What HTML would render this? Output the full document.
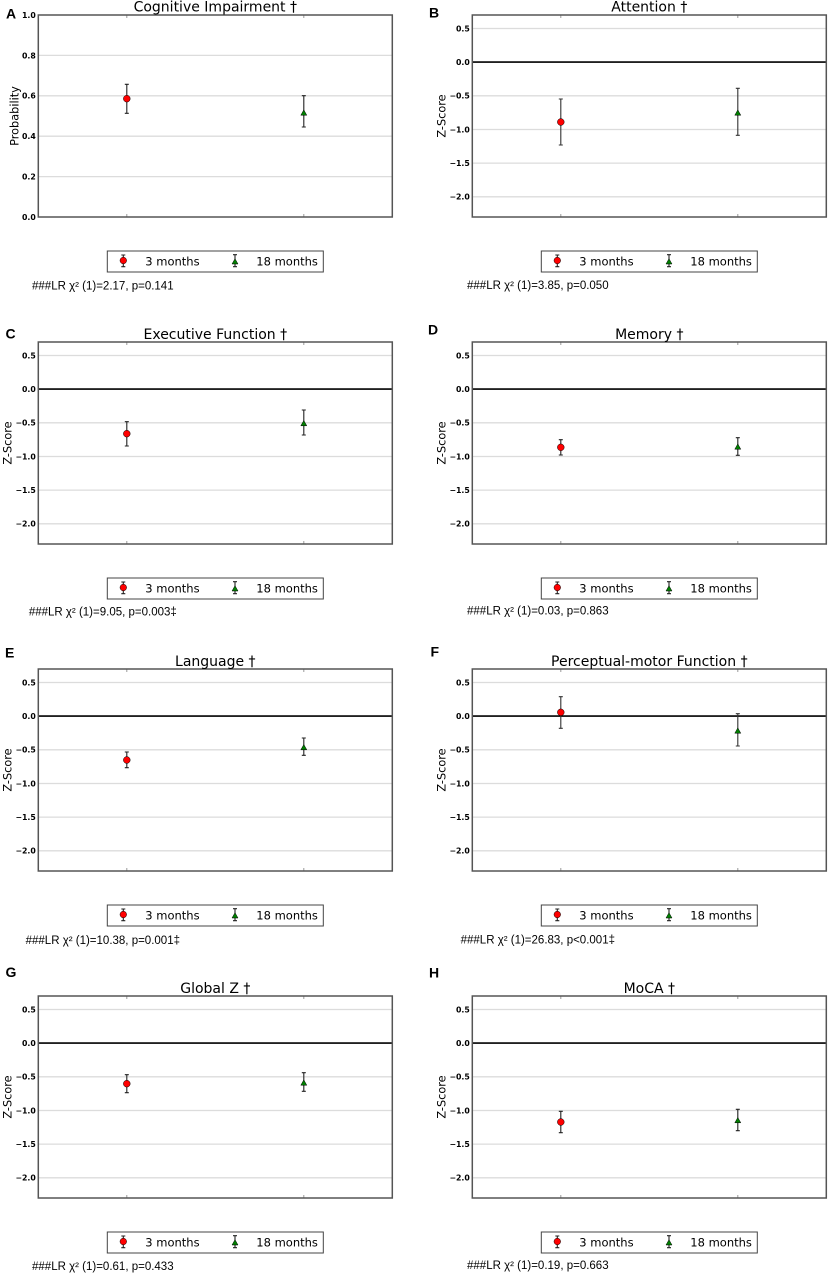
<!DOCTYPE html>
<html><head><meta charset="utf-8"><style>
html,body{margin:0;padding:0;background:#fff;}
svg{display:block;}
.tk{font-family:"DejaVu Sans","Liberation Sans",sans-serif;font-size:7.8px;font-weight:bold;fill:#000;text-anchor:end;}
.tt{font-family:"DejaVu Sans","Liberation Sans",sans-serif;font-size:14px;fill:#000;text-anchor:middle;}
.yl{font-family:"DejaVu Sans","Liberation Sans",sans-serif;font-size:11.3px;fill:#000;text-anchor:middle;}
.lg{font-family:"DejaVu Sans","Liberation Sans",sans-serif;font-size:11.5px;fill:#000;}
.ft{font-family:"Liberation Sans",sans-serif;font-size:11.5px;fill:#000;text-anchor:middle;}
.lb{font-family:"Liberation Sans",sans-serif;font-size:14px;font-weight:bold;fill:#000;}
</style></head><body>
<svg width="829" height="1274" viewBox="0 0 829 1274" xmlns="http://www.w3.org/2000/svg">
<defs>
<g id="zgrid">
 <g stroke="#dcdcdc" stroke-width="1.3">
  <line x1="0" x2="354" y1="13.5" y2="13.5"/>
  <line x1="0" x2="354" y1="80.8" y2="80.8"/>
  <line x1="0" x2="354" y1="114.5" y2="114.5"/>
  <line x1="0" x2="354" y1="148.1" y2="148.1"/>
  <line x1="0" x2="354" y1="181.8" y2="181.8"/>
 </g>
 <line x1="0" x2="354" y1="47.1" y2="47.1" stroke="#000" stroke-width="1.6"/>
</g>
<g id="agrid">
 <g stroke="#dcdcdc" stroke-width="1.3">
  <line x1="0" x2="354" y1="40.4" y2="40.4"/>
  <line x1="0" x2="354" y1="80.8" y2="80.8"/>
  <line x1="0" x2="354" y1="121.2" y2="121.2"/>
  <line x1="0" x2="354" y1="161.6" y2="161.6"/>
 </g>
</g>
<g id="frame">
 <g stroke="#999" stroke-width="1">
  <line x1="88.5" x2="88.5" y1="0" y2="3"/>
  <line x1="265.5" x2="265.5" y1="0" y2="3"/>
  <line x1="88.5" x2="88.5" y1="199" y2="202"/>
  <line x1="265.5" x2="265.5" y1="199" y2="202"/>
 </g>
 <rect x="0" y="0" width="354" height="202" fill="none" stroke="#555" stroke-width="1.5"/>
 <rect x="69" y="236" width="216" height="21" fill="#fff" stroke="#444" stroke-width="1"/>
 <path d="M85 240V251.7M83 240H87M83 251.7H87" stroke="#222" stroke-width="1.1" fill="none"/>
 <circle cx="85" cy="245.5" r="3.3" fill="#f00" stroke="#000" stroke-width="0.5"/>
 <path d="M196.7 239.7V251.7M194.7 239.7H198.7M194.7 251.7H198.7" stroke="#222" stroke-width="1.1" fill="none"/>
 <path d="M196.7 243.7L199.7 249L193.7 249Z" fill="#008000" stroke="#000" stroke-width="0.5"/>
</g>
<g id="ztk">
 <text class="tk" x="-2.5" y="16.4">0.5</text>
 <text class="tk" x="-2.5" y="50">0.0</text>
 <text class="tk" x="-2.5" y="83.7">−0.5</text>
 <text class="tk" x="-2.5" y="117.4">−1.0</text>
 <text class="tk" x="-2.5" y="151">−1.5</text>
 <text class="tk" x="-2.5" y="184.7">−2.0</text>
</g>
</defs>

<!-- A -->
<g transform="translate(38.3,15)">
 <use href="#agrid"/>
 <text class="tk" x="-2.5" y="2.9">1.0</text>
 <text class="tk" x="-2.5" y="43.3">0.8</text>
 <text class="tk" x="-2.5" y="83.7">0.6</text>
 <text class="tk" x="-2.5" y="124.1">0.4</text>
 <text class="tk" x="-2.5" y="164.5">0.2</text>
 <text class="tk" x="-2.5" y="204.9">0.0</text>
 <path d="M88.5 69.3V98.3M86.5 69.3H90.5M86.5 98.3H90.5" stroke="#222" stroke-width="1.1" fill="none"/>
 <circle cx="88.5" cy="83.7" r="3.4" fill="#f00" stroke="#000" stroke-width="0.5"/>
 <path d="M265.5 80.7V112M263.5 80.7H267.5M263.5 112H267.5" stroke="#222" stroke-width="1.1" fill="none"/>
 <path d="M265.5 94.9L268.5 100.2L262.5 100.2Z" fill="#008000" stroke="#000" stroke-width="0.5"/>
 <use href="#frame"/>
 <text class="tt" x="177" y="-3.5">Cognitive Impairment †</text>
 <text class="yl" transform="translate(-19.6,101) rotate(-90)">Probability</text>
 <text class="lg" x="107" y="250.7">3 months</text>
 <text class="lg" x="218" y="250.7">18 months</text>
 <text class="ft" x="64.5" y="274.5">###LR χ² (1)=2.17, p=0.141</text>
</g>

<!-- B -->
<g transform="translate(472.3,15)">
 <use href="#zgrid"/>
 <use href="#ztk"/>
 <path d="M88.5 84V130M86.5 84H90.5M86.5 130H90.5" stroke="#333" stroke-width="1.1" fill="none"/>
 <circle cx="88.5" cy="107" r="3.4" fill="#f00" stroke="#000" stroke-width="0.5"/>
 <path d="M265.5 73.3V120.3M263.5 73.3H267.5M263.5 120.3H267.5" stroke="#333" stroke-width="1.1" fill="none"/>
 <path d="M265.5 94.9L268.5 100.2L262.5 100.2Z" fill="#008000" stroke="#000" stroke-width="0.5"/>
 <use href="#frame"/>
 <text class="tt" x="177" y="-3.5">Attention †</text>
 <text class="yl" transform="translate(-27,101) rotate(-90)">Z-Score</text>
 <text class="lg" x="107" y="250.7">3 months</text>
 <text class="lg" x="218" y="250.7">18 months</text>
 <text class="ft" x="65.5" y="274">###LR χ² (1)=3.85, p=0.050</text>
</g>

<!-- C -->
<g transform="translate(38.3,342)">
 <use href="#zgrid"/>
 <use href="#ztk"/>
 <path d="M88.5 79.7V104M86.5 79.7H90.5M86.5 104H90.5" stroke="#222" stroke-width="1.1" fill="none"/>
 <circle cx="88.5" cy="91.7" r="3.4" fill="#f00" stroke="#000" stroke-width="0.5"/>
 <path d="M265.5 68V93M263.5 68H267.5M263.5 93H267.5" stroke="#222" stroke-width="1.1" fill="none"/>
 <path d="M265.5 78.5L268.5 83.8L262.5 83.8Z" fill="#008000" stroke="#000" stroke-width="0.5"/>
 <use href="#frame"/>
 <text class="tt" x="177" y="-3">Executive Function †</text>
 <text class="yl" transform="translate(-27,101) rotate(-90)">Z-Score</text>
 <text class="lg" x="107" y="250.7">3 months</text>
 <text class="lg" x="218" y="250.7">18 months</text>
 <text class="ft" x="64.5" y="273.5">###LR χ² (1)=9.05, p=0.003‡</text>
</g>

<!-- D -->
<g transform="translate(472.3,342)">
 <use href="#zgrid"/>
 <use href="#ztk"/>
 <path d="M88.5 97.7V113M86.5 97.7H90.5M86.5 113H90.5" stroke="#222" stroke-width="1.1" fill="none"/>
 <circle cx="88.5" cy="105.3" r="3.4" fill="#f00" stroke="#000" stroke-width="0.5"/>
 <path d="M265.5 95.7V113.3M263.5 95.7H267.5M263.5 113.3H267.5" stroke="#222" stroke-width="1.1" fill="none"/>
 <path d="M265.5 101.9L268.5 107.2L262.5 107.2Z" fill="#008000" stroke="#000" stroke-width="0.5"/>
 <use href="#frame"/>
 <text class="tt" x="177" y="-3">Memory †</text>
 <text class="yl" transform="translate(-27,101) rotate(-90)">Z-Score</text>
 <text class="lg" x="107" y="250.7">3 months</text>
 <text class="lg" x="218" y="250.7">18 months</text>
 <text class="ft" x="65.5" y="272.5">###LR χ² (1)=0.03, p=0.863</text>
</g>

<!-- E -->
<g transform="translate(38.3,669)">
 <use href="#zgrid"/>
 <use href="#ztk"/>
 <path d="M88.5 83V98.7M86.5 83H90.5M86.5 98.7H90.5" stroke="#222" stroke-width="1.1" fill="none"/>
 <circle cx="88.5" cy="91" r="3.4" fill="#f00" stroke="#000" stroke-width="0.5"/>
 <path d="M265.5 69V86.3M263.5 69H267.5M263.5 86.3H267.5" stroke="#222" stroke-width="1.1" fill="none"/>
 <path d="M265.5 75.5L268.5 80.8L262.5 80.8Z" fill="#008000" stroke="#000" stroke-width="0.5"/>
 <use href="#frame"/>
 <text class="tt" x="177" y="-3">Language †</text>
 <text class="yl" transform="translate(-27,101) rotate(-90)">Z-Score</text>
 <text class="lg" x="107" y="250.7">3 months</text>
 <text class="lg" x="218" y="250.7">18 months</text>
 <text class="ft" x="64.5" y="275">###LR χ² (1)=10.38, p=0.001‡</text>
</g>

<!-- F -->
<g transform="translate(472.3,669)">
 <use href="#zgrid"/>
 <use href="#ztk"/>
 <path d="M88.5 27.7V59.3M86.5 27.7H90.5M86.5 59.3H90.5" stroke="#333" stroke-width="1.1" fill="none"/>
 <circle cx="88.5" cy="43.3" r="3.4" fill="#f00" stroke="#000" stroke-width="0.5"/>
 <path d="M265.5 44.7V77M263.5 44.7H267.5M263.5 77H267.5" stroke="#333" stroke-width="1.1" fill="none"/>
 <path d="M265.5 58.9L268.5 64.2L262.5 64.2Z" fill="#008000" stroke="#000" stroke-width="0.5"/>
 <use href="#frame"/>
 <text class="tt" x="177" y="-3">Perceptual-motor Function †</text>
 <text class="yl" transform="translate(-27,101) rotate(-90)">Z-Score</text>
 <text class="lg" x="107" y="250.7">3 months</text>
 <text class="lg" x="218" y="250.7">18 months</text>
 <text class="ft" x="65.5" y="274.5">###LR χ² (1)=26.83, p&lt;0.001‡</text>
</g>

<!-- G -->
<g transform="translate(38.3,996)">
 <use href="#zgrid"/>
 <use href="#ztk"/>
 <path d="M88.5 78.7V96.7M86.5 78.7H90.5M86.5 96.7H90.5" stroke="#222" stroke-width="1.1" fill="none"/>
 <circle cx="88.5" cy="87.7" r="3.4" fill="#f00" stroke="#000" stroke-width="0.5"/>
 <path d="M265.5 76.7V95.3M263.5 76.7H267.5M263.5 95.3H267.5" stroke="#222" stroke-width="1.1" fill="none"/>
 <path d="M265.5 83.9L268.5 89.2L262.5 89.2Z" fill="#008000" stroke="#000" stroke-width="0.5"/>
 <use href="#frame"/>
 <text class="tt" x="177" y="-3">Global Z †</text>
 <text class="yl" transform="translate(-27,101) rotate(-90)">Z-Score</text>
 <text class="lg" x="107" y="250.7">3 months</text>
 <text class="lg" x="218" y="250.7">18 months</text>
 <text class="ft" x="64.5" y="274">###LR χ² (1)=0.61, p=0.433</text>
</g>

<!-- H -->
<g transform="translate(472.3,996)">
 <use href="#zgrid"/>
 <use href="#ztk"/>
 <path d="M88.5 115.3V136.7M86.5 115.3H90.5M86.5 136.7H90.5" stroke="#222" stroke-width="1.1" fill="none"/>
 <circle cx="88.5" cy="126" r="3.4" fill="#f00" stroke="#000" stroke-width="0.5"/>
 <path d="M265.5 113.3V134.7M263.5 113.3H267.5M263.5 134.7H267.5" stroke="#222" stroke-width="1.1" fill="none"/>
 <path d="M265.5 121.5L268.5 126.8L262.5 126.8Z" fill="#008000" stroke="#000" stroke-width="0.5"/>
 <use href="#frame"/>
 <text class="tt" x="177" y="-3">MoCA †</text>
 <text class="yl" transform="translate(-27,101) rotate(-90)">Z-Score</text>
 <text class="lg" x="107" y="250.7">3 months</text>
 <text class="lg" x="218" y="250.7">18 months</text>
 <text class="ft" x="65.5" y="273.2">###LR χ² (1)=0.19, p=0.663</text>
</g>

<!-- panel letters -->
<text class="lb" x="6" y="18.3">A</text>
<text class="lb" x="429" y="17.3">B</text>
<text class="lb" x="5.5" y="338.3">C</text>
<text class="lb" x="428" y="334.3">D</text>
<text class="lb" x="5" y="657.3">E</text>
<text class="lb" x="430.5" y="656.7">F</text>
<text class="lb" x="5.5" y="977">G</text>
<text class="lb" x="429" y="977.3">H</text>
</svg>
</body></html>
